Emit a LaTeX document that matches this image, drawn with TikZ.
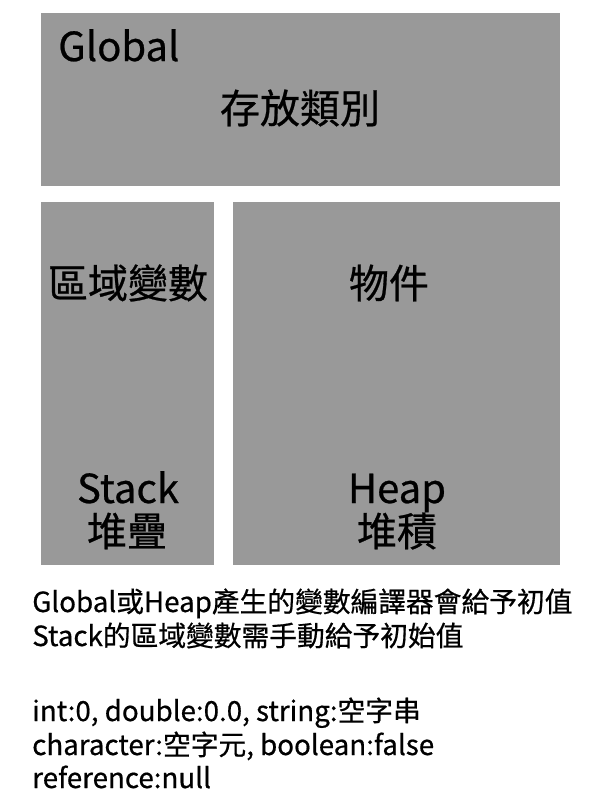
\documentclass[tikz,border=0pt]{standalone}
\usepackage{fontspec}
\setmainfont{Noto Sans CJK TC}[FakeBold=0.6]
\usepackage{xcolor}
\usetikzlibrary{positioning}
\definecolor{boxgray}{RGB}{153,153,153}

\begin{document}
\begin{tikzpicture}[
		x=0.75pt, y=-0.75pt,
		region/.style={fill=boxgray,inner sep=0pt,anchor=north west},
		big/.style={font=\fontsize{30}{32}\selectfont,inner sep=0pt},
		note/.style={font=\fontsize{20.8}{22}\selectfont,inner sep=0pt,anchor=base west}
		]
		\useasboundingbox (0,0) rectangle (600,800);
		
		% memory regions
		\node[region,minimum width=389.25pt,minimum height=129.75pt] (global) at (41,13) {};
		\node[region,minimum width=129.75pt,minimum height=272.25pt] (stack) at (41,202) {};
		\node[region,minimum width=245.25pt,minimum height=272.25pt] (heap) at (233,202) {};
		
		\node[big,anchor=base west] (globalname) at (58,61) {Global};
		\node[big] (globaltext) at (300,108) {存放類別};
		
		\node[big] (stacktext) at (128,283) {區域變數};
		\node[big,anchor=base] (stackname) at (128,503) {Stack};
		\node[big] (stackzh) at (127,531) {堆疊};
		
		\node[big] (heaptext) at (389,283) {物件};
		\node[big,anchor=base] (heapname) at (397,503) {Heap};
		\node[big] (heapzh) at (397,531) {堆積};
		
		% notes
		\node[note] (note1) at (32,612) {Global或Heap產生的變數編譯器會給予初值};
		\node[note] (note2) at (32,646) {Stack的區域變數需手動給予初始值};
		\node[note] (note3) at (32,721) {int:0, double:0.0, string:空字串};
		\node[note] (note4) at (32,755) {character:空字元, boolean:false};
		\node[note] (note5) at (32,788) {reference:null};
		
\end{tikzpicture}
\end{document}
